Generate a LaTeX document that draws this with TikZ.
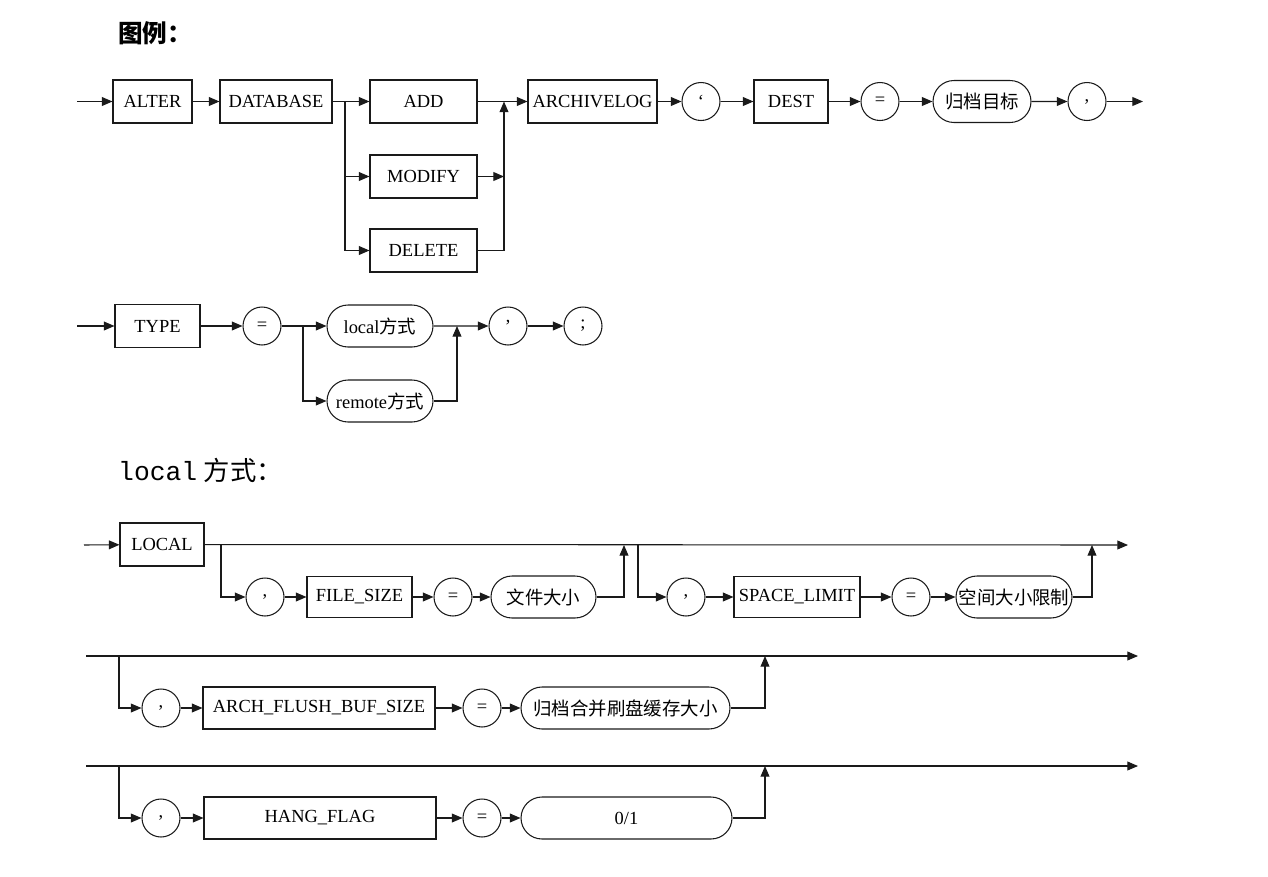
\documentclass[tikz,border=0pt]{standalone}
\usepackage{fontspec}
\setmainfont{Liberation Serif}
\setmonofont{Liberation Mono}
\newfontfamily\cjk{Noto Sans CJK SC}
\usetikzlibrary{arrows.meta,shapes.misc}
\definecolor{wire}{HTML}{1A1A1A}
\begin{document}
\begin{tikzpicture}[
  x=0.02cm,y=-0.02cm,
  every node/.style={font=\fontsize{10.5}{12}\selectfont},
  kw/.style={draw=wire,line width=0.6pt,inner sep=0pt,minimum height=0.86cm,minimum width=#1},
  sym/.style={draw=wire,line width=0.6pt,circle,inner sep=0pt,minimum size=0.76cm},
  term/.style={draw=wire,line width=0.6pt,rounded rectangle,inner sep=0pt,minimum height=0.84cm,minimum width=#1},
  arr/.style={-{Triangle[length=6pt,width=5pt]},line width=0.6pt,draw=wire},
  rail/.style={line width=0.6pt,draw=wire}
]
\useasboundingbox (0,0) rectangle (1268,876);
\node[anchor=west,font=\fontsize{14}{16}\selectfont\cjk\bfseries] (title) at (112,33) {图例：};
\coordinate (in1) at (77,101.5);
\node[kw=1.58cm] (alter) at (152.5,101.5) {ALTER};
\node[kw=2.24cm] (database) at (276,101.5) {DATABASE};
\coordinate (split1) at (345,101.5);
\node[kw=2.14cm] (add) at (423.5,101.5) {ADD};
\node[kw=2.14cm] (modify) at (423.5,176.5) {MODIFY};
\node[kw=2.14cm] (delete) at (423.5,250.5) {DELETE};
\coordinate (join1) at (504,101.5);
\node[kw=2.58cm] (archivelog) at (592.5,101.5) {ARCHIVELOG};
\node[sym] (q1) at (701,101.5) {‘};
\node[kw=1.48cm] (dest) at (791,101.5) {DEST};
\node[sym] (eq1) at (880,101.5) {=};
\node[term=1.96cm] (target) at (982,101.5) {\cjk 归档目标};
\node[sym] (comma1) at (1087,101.5) {,};
\coordinate (out1) at (1143,101.5);
\draw[arr] (in1) -- (alter);
\draw[arr] (alter) -- (database);
\draw[arr] (database) -- (add);
\draw[arr] (split1) |- (modify);
\draw[arr] (split1) |- (delete);
\draw[arr] (add) -- (archivelog);
\draw[arr] (modify) -- (modify -| join1);
\draw[arr] (delete) -| (join1);
\draw[arr] (archivelog) -- (q1);
\draw[arr] (q1) -- (dest);
\draw[arr] (dest) -- (eq1);
\draw[arr] (eq1) -- (target);
\draw[arr] (target) -- (comma1);
\draw[arr] (comma1) -- (out1);
\coordinate (in2) at (77,326);
\node[kw=1.70cm] (type) at (157.5,326) {TYPE};
\node[sym] (eq2) at (262,326) {=};
\coordinate (split2) at (303,326);
\node[term=2.12cm] (localway) at (380,326) {local{\cjk 方式}};
\node[term=2.12cm] (remoteway) at (380,401) {remote{\cjk 方式}};
\coordinate (join2) at (457,326);
\node[sym] (q2) at (508,326) {’};
\node[sym] (semi) at (583,326) {;};
\draw[arr] (in2) -- (type);
\draw[arr] (type) -- (eq2);
\draw[arr] (eq2) -- (localway);
\draw[arr] (split2) |- (remoteway);
\draw[arr] (localway) -- (q2);
\draw[arr] (remoteway) -| (join2);
\draw[arr] (q2) -- (semi);
\node[anchor=west,font=\fontsize{15}{17}\selectfont] (locallabel) at (112,470) {\texttt{local} {\cjk 方式：}};
\coordinate (in3) at (84,545);
\node[kw=1.68cm] (local) at (162,544.5) {LOCAL};
\coordinate (end3) at (1128,545);
\coordinate (split3a) at (221,545);
\node[sym] (c3a) at (265,597) {,};
\node[kw=2.1cm,minimum height=0.82cm] (filesize) at (359.5,597) {FILE\_SIZE};
\node[sym] (eq3a) at (453,597) {=};
\node[term=2.1cm] (filesz) at (543.5,597) {\cjk 文件大小};
\coordinate (join3a) at (624,545);
\coordinate (split3b) at (638,545);
\node[sym] (c3b) at (686,597) {,};
\node[kw=2.52cm,minimum height=0.82cm] (spacelimit) at (797,597) {SPACE\_LIMIT};
\node[sym] (eq3b) at (911,597) {=};
\node[term=2.32cm] (spacesz) at (1014,597) {\cjk 空间大小限制};
\coordinate (join3b) at (1092,545);
\draw[arr] (in3) -- (local);
\draw[arr] (local) -- (end3);
\draw[arr] (split3a) |- (c3a);
\draw[arr] (c3a) -- (filesize);
\draw[arr] (filesize) -- (eq3a);
\draw[arr] (eq3a) -- (filesz);
\draw[arr] (filesz) -| (join3a);
\draw[arr] (split3b) |- (c3b);
\draw[arr] (c3b) -- (spacelimit);
\draw[arr] (spacelimit) -- (eq3b);
\draw[arr] (eq3b) -- (spacesz);
\draw[arr] (spacesz) -| (join3b);
\coordinate (start4) at (86,656);
\coordinate (end4) at (1138,656);
\coordinate (split4) at (119,656);
\node[sym] (c4) at (161,708) {,};
\node[kw=4.64cm,minimum height=0.84cm] (flushbuf) at (319,708) {ARCH\_FLUSH\_BUF\_SIZE};
\node[sym] (eq4) at (482,708) {=};
\node[term=4.18cm] (flushsz) at (625.5,708) {\cjk 归档合并刷盘缓存大小};
\coordinate (join4) at (765,656);
\draw[arr] (start4) -- (end4);
\draw[arr] (split4) |- (c4);
\draw[arr] (c4) -- (flushbuf);
\draw[arr] (flushbuf) -- (eq4);
\draw[arr] (eq4) -- (flushsz);
\draw[arr] (flushsz) -| (join4);
\coordinate (start5) at (86,766);
\coordinate (end5) at (1138,766);
\coordinate (split5) at (119,766);
\node[sym] (c5) at (161,818) {,};
\node[kw=4.64cm,minimum height=0.84cm] (hangflag) at (320,818) {HANG\_FLAG};
\node[sym] (eq5) at (482,818) {=};
\node[term=4.22cm] (flag) at (626.5,818) {0/1};
\coordinate (join5) at (765,766);
\draw[arr] (start5) -- (end5);
\draw[arr] (split5) |- (c5);
\draw[arr] (c5) -- (hangflag);
\draw[arr] (hangflag) -- (eq5);
\draw[arr] (eq5) -- (flag);
\draw[arr] (flag) -| (join5);
\end{tikzpicture}
\end{document}
